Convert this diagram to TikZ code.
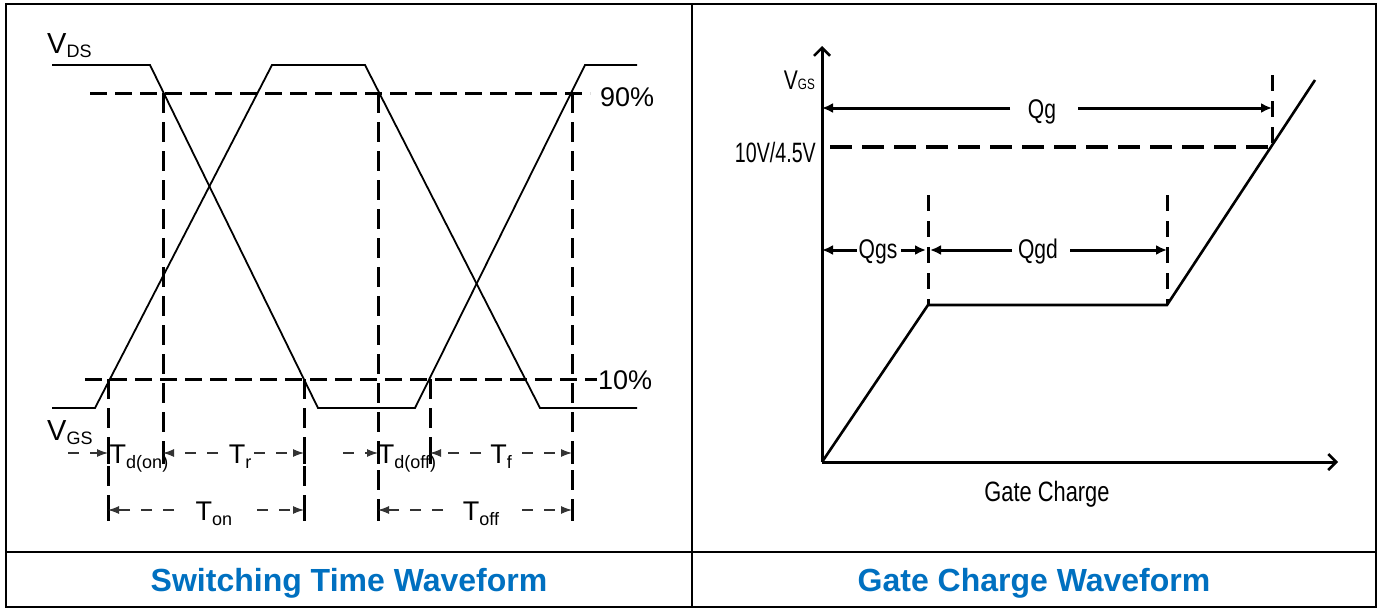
\documentclass[tikz,border=0pt]{standalone}
\usepackage{fontspec}
\setmainfont{Liberation Sans}
\newfontfamily\narrowfont[FakeStretch=0.78]{Liberation Sans}
\usetikzlibrary{arrows.meta}
\definecolor{titleblue}{HTML}{0070C0}
\newcommand\lowsub[2]{\raisebox{-#1}{\fontsize{18}{20}\selectfont #2}}

\begin{document}
\begin{tikzpicture}[x=1pt, y=-1pt,
    frame/.style={line width=2.5pt},
    wave/.style={line width=1.8pt},
    level/.style={line width=3pt, dash pattern=on 17pt off 8pt},
    guide/.style={line width=3pt, dash pattern=on 20pt off 9pt},
    dim/.style={line width=1.1pt, black!80, dash pattern=on 11pt off 11pt,
                -{Latex[length=11pt,width=8pt]}},
    tlabel/.style={font=\fontsize{27}{30}\selectfont, inner sep=0pt, anchor=base},
    glabel/.style={font=\narrowfont\fontsize{27}{30}\selectfont, inner sep=0pt, anchor=base},
    gaxis/.style={line width=3pt, -{Straight Barb[length=8pt,width=16pt,line width=2.5pt]}},
    garrow/.style={line width=3pt, -{Latex[length=11pt,width=10pt]}},
    title/.style={font=\bfseries\fontsize{32}{36}\selectfont, text=titleblue, anchor=base}]
    \useasboundingbox (0,0) rectangle (1385,608);

    % Outer frame and panel split
    \draw[frame] (6,4) rectangle (1376,607);
    \draw[frame] (6,552) -- (1376,552);
    \draw[frame] (692,4) -- (692,607);

    % ---------- Switching Time Waveform ----------
    % 90% and 10% levels
    \draw[level] (90,93) -- (590,93);
    \draw[level] (85,379) -- (597,379);
    \node[tlabel, anchor=base west] (p90) at (600,106) {90\%};
    \node[tlabel, anchor=base west] (p10) at (598,389) {10\%};

    % V_DS and V_GS traces
    \draw[wave] (52,65) -- (150,65) -- (318,408) -- (415,408) -- (585,65) -- (637,65);
    \draw[wave] (52,408) -- (95,408) -- (272,65) -- (365,65) -- (540,408) -- (637,408);
    \node[font=\fontsize{29}{30}\selectfont, inner sep=0pt, anchor=base west] (vds) at (47,53) {V\lowsub{4pt}{DS}};
    \node[font=\fontsize{29}{30}\selectfont, inner sep=0pt, anchor=base west] (vgs) at (47,440) {V\lowsub{4pt}{GS}};

    % vertical guides
    \foreach \x/\ya/\yb in {108/379/515, 163/93/460, 304/379/515,
                            378/93/515, 430/379/460, 572/93/515}
        \draw[guide] (\x,\ya) -- (\x,\yb);
    \foreach \x/\y in {108/453, 163/453, 304/453, 378/453, 430/453, 572/453,
                       108/510, 304/510, 378/510, 572/510}
        \draw[line width=3pt] (\x,\y-11) -- (\x,\y+11);

    % end points of the timing arrows
    \coordinate (on1) at (108,453);
    \coordinate (on2) at (163,453);
    \coordinate (on3) at (304,453);
    \coordinate (off1) at (378,453);
    \coordinate (off2) at (430,453);
    \coordinate (off3) at (572,453);
    \coordinate (on1b) at (108,510);
    \coordinate (on3b) at (304,510);
    \coordinate (off1b) at (378,510);
    \coordinate (off3b) at (572,510);
    \coordinate (tdon-in) at (68,453);
    \coordinate (tdoff-in) at (343,453);
    \coordinate (tr-l) at (218,453);
    \coordinate (tr-r) at (254,453);
    \coordinate (tf-l) at (481,453);
    \coordinate (tf-r) at (522,453);
    \coordinate (ton-l) at (174,510);
    \coordinate (ton-r) at (257,510);
    \coordinate (toff-l) at (443,510);
    \coordinate (toff-r) at (522,510);

    \node[tlabel] (tdon) at (139,463) {T\lowsub{5pt}{d(on)}};
    \node[tlabel] (tr) at (240,463) {T\lowsub{5pt}{r}};
    \node[tlabel] (tdoff) at (407,463) {T\lowsub{5pt}{d(off)}};
    \node[tlabel] (tf) at (501,463) {T\lowsub{5pt}{f}};
    \node[tlabel] (ton) at (214,520) {T\lowsub{5pt}{on}};
    \node[tlabel] (toff) at (481,520) {T\lowsub{5pt}{off}};

    \draw[dim] (tdon-in) -- (on1);
    \draw[dim] (tr-l) -- (on2);
    \draw[dim] (tr-r) -- (on3);
    \draw[dim] (tdoff-in) -- (off1);
    \draw[dim] (tf-l) -- (off2);
    \draw[dim] (tf-r) -- (off3);
    \draw[dim] (ton-l) -- (on1b);
    \draw[dim] (ton-r) -- (on3b);
    \draw[dim] (toff-l) -- (off1b);
    \draw[dim] (toff-r) -- (off3b);

    % ---------- Gate Charge Waveform ----------
    \coordinate (o) at (822,462);
    \coordinate (ytop) at (822,46);
    \coordinate (xend) at (1338,462);
    \draw[gaxis] (o) -- (ytop);
    \draw[gaxis] (o) -- (xend);
    \draw[line width=2.6pt, line join=miter] (o) -- (928,305) -- (1167,305) -- (1315,80);

    % 10V/4.5V level and guides
    \draw[line width=4pt, dash pattern=on 22pt off 10pt] (830,147) -- (1272,147);
    \draw[line width=3pt, dash pattern=on 16pt off 10pt] (1272,75) -- (1272,147);
    \draw[line width=3pt, dash pattern=on 16pt off 10pt] (928,195) -- (928,305);
    \draw[line width=3pt, dash pattern=on 16pt off 10pt] (1167,195) -- (1167,305);

    \node[font=\narrowfont\fontsize{27}{28}\selectfont, inner sep=0pt, anchor=base east] (vgsg) at (815,89)
        {V{\fontsize{15}{16}\selectfont GS}};
    \node[glabel, font=\narrowfont\fontsize{28}{30}\selectfont, xscale=0.9, anchor=base east] (lvl) at (816,162) {10V/4.5V};
    \node[glabel, font=\narrowfont\fontsize{28}{30}\selectfont] (gc) at (1047,501) {Gate Charge};

    % charge arrows
    \coordinate (qg-a) at (822,108);
    \coordinate (qg-b) at (1272,108);
    \coordinate (qgs-a) at (822,250);
    \coordinate (qgs-b) at (926,250);
    \coordinate (qgd-a) at (930,250);
    \coordinate (qgd-b) at (1167,250);
    \coordinate (qg-l) at (1010,108);
    \coordinate (qg-r) at (1078,108);
    \coordinate (qgs-l) at (857,250);
    \coordinate (qgs-r) at (901,250);
    \coordinate (qgd-l) at (1012,250);
    \coordinate (qgd-r) at (1070,250);

    \node[glabel] (qg) at (1042,118) {Qg};
    \node[glabel] (qgs) at (878,258) {Qgs};
    \node[glabel] (qgd) at (1038,258) {Qgd};

    \draw[garrow] (qg-l) -- (qg-a);
    \draw[garrow] (qg-r) -- (qg-b);
    \draw[garrow] (qgs-l) -- (qgs-a);
    \draw[garrow] (qgs-r) -- (qgs-b);
    \draw[garrow] (qgd-l) -- (qgd-a);
    \draw[garrow] (qgd-r) -- (qgd-b);

    % titles
    \node[title] (t1) at (349,591) {Switching Time Waveform};
    \node[title] (t2) at (1034,591) {Gate Charge Waveform};
\end{tikzpicture}
\end{document}
